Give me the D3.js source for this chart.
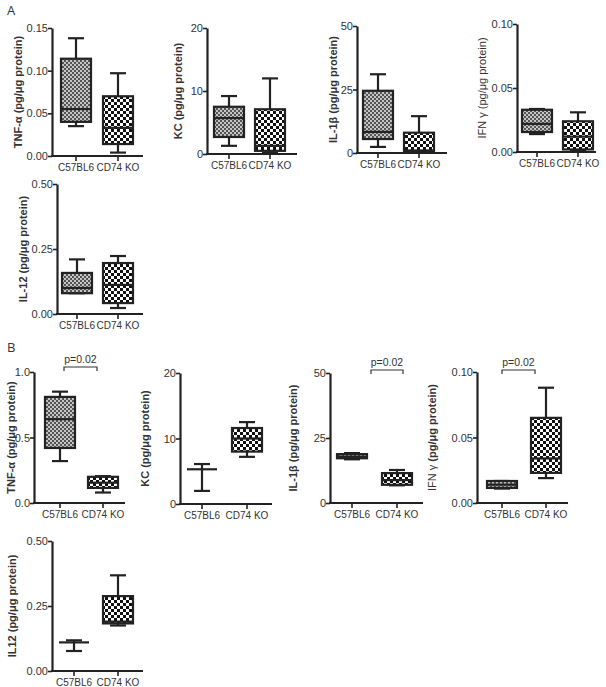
<!DOCTYPE html>
<html>
<head>
<meta charset="utf-8">
<script src="https://cdn.jsdelivr.net/npm/d3@7"></script>
<style>
  html, body { margin: 0; padding: 0; background: #fff; }
  svg text { font-family: "Liberation Sans", Arial, sans-serif; fill: #333; }
</style>
</head>
<body>
<div id="figure"></div>
<script>
// 组别
const groups = ['C57BL6', 'CD74 KO']

// 每个小图的y轴标签
const yLabels = [
    'TNF-α (pg/μg protein)', 'KC (pg/μg protein)', 'IL-1β (pg/μg protein)', 'IFN γ (pg/μg protein)', 'IL-12 (pg/μg protein)',
    'TNF-α (pg/μg protein)', 'KC (pg/μg protein)', 'IL-1β (pg/μg protein)', 'IFN γ (pg/μg protein)', 'IL12 (pg/μg protein)'
]

// y轴刻度
const yTicks = [
    [0, 0.05, 0.10, 0.15], [0, 10, 20], [0, 25, 50], [0, 0.05, 0.10], [0, 0.25, 0.50],
    [0, 0.5, 1.0], [0, 10, 20], [0, 25, 50], [0, 0.05, 0.10], [0, 0.25, 0.50]
]
const tickFormats = ['.2f', 'd', 'd', '.2f', '.2f', '.1f', 'd', 'd', '.2f', '.2f']

// 箱线图数据: [min, q1, median, q3, max]
const wtStats = [
    [0.035, 0.040, 0.055, 0.114, 0.138],
    [1.3, 2.7, 5.7, 7.5, 9.2],
    [2.4, 5.5, 8.3, 24.5, 31],
    [0.014, 0.0156, 0.022, 0.033, 0.0336],
    [0.08, 0.08, 0.10, 0.158, 0.21],
    [0.32, 0.42, 0.64, 0.81, 0.85],
    [2.0, 5.3, 5.3, 5.3, 6.1],
    [16.8, 17.2, 17.8, 18.8, 19.2],
    [0.011, 0.0115, 0.014, 0.0168, 0.0168],
    [0.077, 0.11, 0.11, 0.11, 0.118]
]
const koStats = [
    [0.004, 0.014, 0.033, 0.070, 0.097],
    [0.2, 0.5, 1.3, 7.1, 12.0],
    [0.3, 0.5, 1.0, 8.0, 14.5],
    [0.001, 0.002, 0.012, 0.024, 0.031],
    [0.023, 0.042, 0.112, 0.196, 0.223],
    [0.08, 0.115, 0.155, 0.20, 0.205],
    [7.2, 8.0, 10.0, 11.6, 12.5],
    [6.8, 7.0, 8.8, 11.5, 12.7],
    [0.019, 0.023, 0.034, 0.065, 0.088],
    [0.175, 0.183, 0.19, 0.288, 0.368]
]

// 显著性标注
const pLabels = [null, null, null, null, null, 'p=0.02', null, 'p=0.02', 'p=0.02', null]

// 小图位置: [轴x, x轴终点, 顶部y, 底部y, 组1中心, 组2中心, 标签x]
const layout = [
    [52, 143, 28, 156, 76, 118, 18],
    [207, 297, 28, 154, 229, 270, 178],
    [357, 447, 26, 153, 378, 419, 333],
    [517, 596, 24, 152, 537, 578, 482],
    [57, 143, 184, 314, 77, 118, 23],
    [34, 125, 372, 503, 60, 103, 11],
    [180, 272, 373, 504, 202, 247, 145],
    [330, 423, 373, 503, 352, 397, 293],
    [477, 568, 372, 503, 502, 546, 432],
    [52, 143, 541, 671, 74, 118, 12]
]
// 显著性括号位置: [x1, x2, y]
const bracketPos = [null, null, null, null, null, [64, 97, 367], null, [371, 403, 370], [502, 535, 370], null]

const width = 606
const height = 687
const boxW = 30
const capW = 16
const ink = '#222'

const svg = d3.select('#figure').append('svg')
    .attr('width', width)
    .attr('height', height)
    .attr('viewBox', `0 0 ${width} ${height}`)

// 填充图案
const defs = svg.append('defs')
const patWt = defs.append('pattern')
    .attr('id', 'patWt').attr('patternUnits', 'userSpaceOnUse')
    .attr('width', 4).attr('height', 4)
patWt.append('rect').attr('width', 4).attr('height', 4).attr('fill', '#c4c4c4')
patWt.append('rect').attr('width', 2).attr('height', 2).attr('fill', '#555')
patWt.append('rect').attr('x', 2).attr('y', 2).attr('width', 2).attr('height', 2).attr('fill', '#555')

const patKo = defs.append('pattern')
    .attr('id', 'patKo').attr('patternUnits', 'userSpaceOnUse')
    .attr('width', 6).attr('height', 6)
patKo.append('rect').attr('width', 6).attr('height', 6).attr('fill', '#fff')
patKo.append('rect').attr('width', 3).attr('height', 3).attr('fill', '#111')
patKo.append('rect').attr('x', 3).attr('y', 3).attr('width', 3).attr('height', 3).attr('fill', '#111')

// 面板字母
svg.append('text').attr('x', 7).attr('y', 15)
    .style('font-family', '"Open Sans", sans-serif').style('font-size', '13px').text('A')
svg.append('text').attr('x', 7).attr('y', 352)
    .style('font-family', '"Open Sans", sans-serif').style('font-size', '13px').text('B')

layout.forEach((L, i) => {
    const [ax, xEnd, yTop, yBot, c1, c2, labelX] = L
    const ticks = yTicks[i]
    const y = d3.scaleLinear()
        .domain([0, ticks[ticks.length - 1]])
        .range([yBot, yTop])
    const x = d3.scaleOrdinal().domain(groups).range([c1, c2])

    const g = svg.append('g')

    // y轴
    const yAxis = d3.axisLeft(y).tickValues(ticks)
        .tickFormat(d3.format(tickFormats[i])).tickSize(4).tickSizeOuter(0)
    g.append('g')
        .attr('transform', `translate(${ax},0)`)
        .call(yAxis)
        .call(s => s.select('.domain').attr('stroke', ink).attr('stroke-width', 2.2))
        .call(s => s.selectAll('.tick line').attr('stroke', ink).attr('stroke-width', 1.6))
        .call(s => s.selectAll('.tick text')
            .attr('x', -4)
            .style('font-size', '11px').style('font-family', '"Liberation Sans", Arial, sans-serif')
            .attr('fill', '#333'))

    // x轴
    g.append('line')
        .attr('x1', ax - 1).attr('x2', xEnd)
        .attr('y1', yBot).attr('y2', yBot)
        .attr('stroke', ink).attr('stroke-width', 2.2)
    groups.forEach(gr => {
        g.append('line')
            .attr('x1', x(gr)).attr('x2', x(gr))
            .attr('y1', yBot).attr('y2', yBot + 5)
            .attr('stroke', ink).attr('stroke-width', 1.6)
        g.append('text')
            .attr('x', x(gr)).attr('y', yBot + 15)
            .attr('text-anchor', 'middle')
            .style('font-size', '10px')
            .text(gr)
    })

    // y轴标签
    const lab = g.append('text')
        .attr('transform', `translate(${labelX},${(yTop + yBot) / 2}) rotate(-90)`)
        .attr('text-anchor', 'middle')
        .attr('dominant-baseline', 'central')
        .style('font-size', '11px')
    if (i === 3) {
        lab.style('font-weight', 'normal').attr('fill', '#444').text(yLabels[i])
    } else if (i === 8) {
        const parts = yLabels[i].split(' (')
        lab.append('tspan').style('font-weight', 'normal').text(parts[0] + ' ')
        lab.append('tspan').style('font-weight', 'bold').text('(' + parts[1])
    } else {
        lab.style('font-weight', 'bold').text(yLabels[i])
    }

    // 箱线图
    const stats = [wtStats[i], koStats[i]]
    stats.forEach((s, k) => {
        const cx = x(groups[k])
        const [mn, q1, md, q3, mx] = s
        const bg = g.append('g')
        // 须线
        bg.append('line')
            .attr('x1', cx).attr('x2', cx)
            .attr('y1', y(mx)).attr('y2', y(mn))
            .attr('stroke', ink).attr('stroke-width', 2.2)
        ;[mn, mx].forEach(v => {
            bg.append('line')
                .attr('x1', cx - capW / 2).attr('x2', cx + capW / 2)
                .attr('y1', y(v)).attr('y2', y(v))
                .attr('stroke', ink).attr('stroke-width', 2.2)
        })
        // 箱体
        if (q3 > q1) {
            bg.append('rect')
                .attr('x', cx - boxW / 2).attr('width', boxW)
                .attr('y', y(q3)).attr('height', y(q1) - y(q3))
                .attr('fill', k === 0 ? 'url(#patWt)' : 'url(#patKo)')
                .attr('stroke', ink).attr('stroke-width', 2.2)
        }
        // 中位数
        bg.append('line')
            .attr('x1', cx - boxW / 2).attr('x2', cx + boxW / 2)
            .attr('y1', y(md)).attr('y2', y(md))
            .attr('stroke', ink).attr('stroke-width', 2.2)
    })

    // 显著性括号
    if (pLabels[i]) {
        const [bx1, bx2, by] = bracketPos[i]
        g.append('path')
            .attr('d', `M${bx1},${by + 4}V${by}H${bx2}V${by + 4}`)
            .attr('fill', 'none').attr('stroke', '#333').attr('stroke-width', 1.2)
        g.append('text')
            .attr('x', (bx1 + bx2) / 2).attr('y', by - 4)
            .attr('text-anchor', 'middle')
            .style('font-size', '10.5px')
            .text(pLabels[i])
    }
})
</script>
</body>
</html>
